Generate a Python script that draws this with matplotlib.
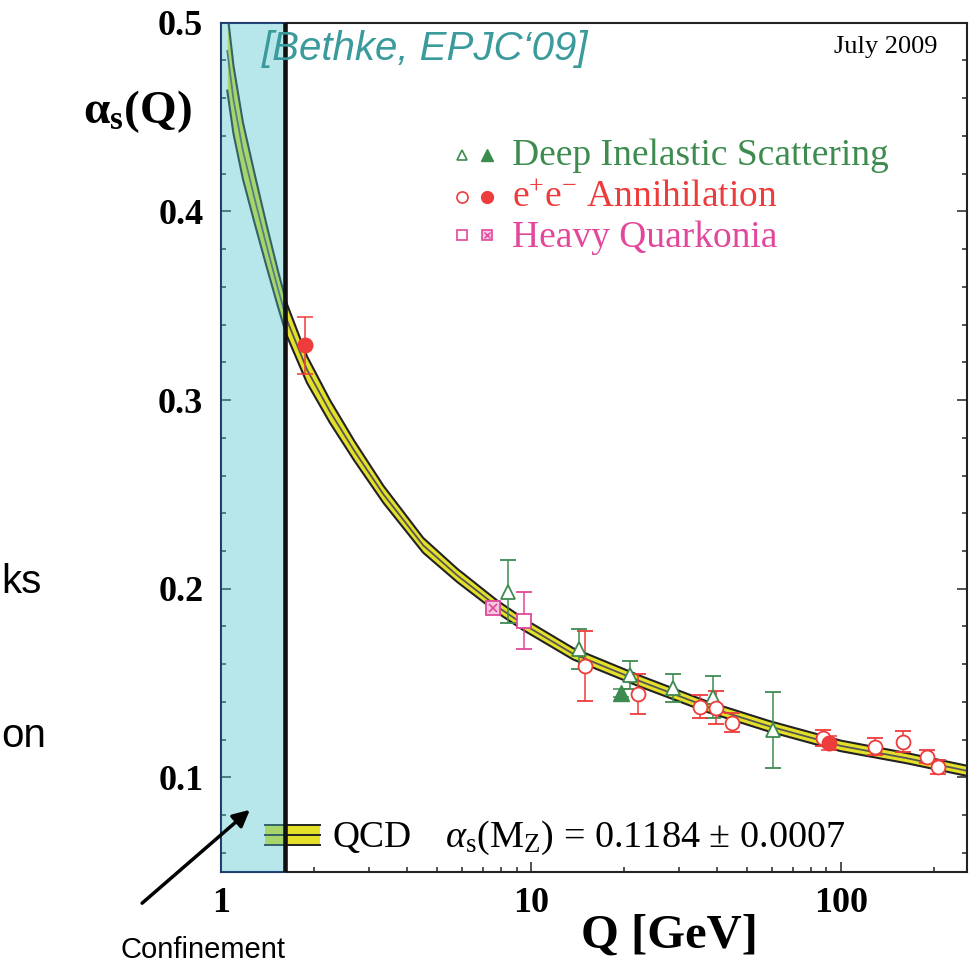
import numpy as np
import matplotlib.pyplot as plt
from matplotlib.ticker import FixedLocator, FixedFormatter, MultipleLocator, NullFormatter

plt.rcParams['mathtext.fontset'] = 'custom'
plt.rcParams['mathtext.rm'] = 'Liberation Serif'
plt.rcParams['mathtext.it'] = 'Liberation Serif:italic'
plt.rcParams['mathtext.bf'] = 'Liberation Serif:bold'

# QCD band (centre and half width)
band_q = [1.05, 1.1, 1.18, 1.29, 1.41, 1.53, 1.63, 1.9, 2.25, 2.7, 3.35, 4.5,
          5.8, 7.8, 9.5, 13.7, 22.5, 37, 59, 100, 163, 255]
band_alpha = [0.485, 0.459, 0.432, 0.406, 0.381, 0.359, 0.343, 0.316, 0.294, 0.273,
              0.250, 0.223, 0.207, 0.1905, 0.181, 0.1655, 0.151, 0.1375, 0.127,
              0.1167, 0.1102, 0.1035]
band_err = [0.021, 0.018, 0.015, 0.013, 0.011, 0.0095, 0.0085, 0.007, 0.006, 0.0052,
            0.0045, 0.0039, 0.0035, 0.0032, 0.0031, 0.003, 0.0029, 0.0028, 0.0028,
            0.0028, 0.0027, 0.0027]

# deep inelastic scattering
dis_q = [8.47, 14.3, 20.9, 28.8, 38.6, 60.6]
dis_a = [0.1985, 0.168, 0.1543, 0.1473, 0.1425, 0.1252]
dis_e = [0.0165, 0.0105, 0.0076, 0.0075, 0.011, 0.020]
dis_full_q = [19.6]
dis_full_a = [0.1446]
dis_full_e = [0.002]

# e+e- annihilation
ee_q = [15.0, 22.2, 35.2, 39.6, 44.5, 87.9, 129, 159, 190, 206]
ee_a = [0.159, 0.1441, 0.1375, 0.137, 0.129, 0.1208, 0.1163, 0.119, 0.111, 0.1054]
ee_e = [0.0185, 0.0106, 0.006, 0.0087, 0.005, 0.0043, 0.0047, 0.0055, 0.0035, 0.0037]
ee_full_q = [1.87, 92.0]
ee_full_a = [0.329, 0.1181]
ee_full_e = [0.015, 0.0037]

# heavy quarkonia
hq_q = [9.51]
hq_a = [0.183]
hq_e = [0.015]
hq_lat_q = [7.54]
hq_lat_a = [0.190]
hq_lat_e = [0.003]

green = '#3d8b4f'
red = '#ee3b3b'
pink = '#e2479b'
yellow = '#e4e02a'
cyan = (77/255, 197/255, 207/255, 0.4)

W, H = 969, 964
fig = plt.figure(figsize=(W/100, H/100), dpi=100)
ax = fig.add_axes([220.7/W, (H-871.7)/H, 746/W, 849/H])

def fx(px):
    return (px - 220.7) / 746.0

def fy(py):
    return (871.7 - py) / 849.0

def fig_xy(px, py):
    return px / W, 1 - py / H

# band
lo = np.array(band_alpha) - np.array(band_err)
hi = np.array(band_alpha) + np.array(band_err)
ax.fill_between(band_q, lo, hi, color=yellow, lw=0, zorder=2)
ax.plot(band_q, lo, color='#222222', lw=1.5, zorder=2.1)
ax.plot(band_q, hi, color='#222222', lw=1.5, zorder=2.1)
ax.plot(band_q, band_alpha, color='#555555', lw=1.3, zorder=2.1)

eb = dict(capsize=5.5, elinewidth=1.1, capthick=1.1, ls='none', zorder=5)
ax.errorbar(dis_q, dis_a, yerr=dis_e, fmt='^', color=green, mfc='white', mec=green,
            ms=10, mew=1.3, **eb)
ax.errorbar(dis_full_q, dis_full_a, yerr=dis_full_e, fmt='^', color=green, ms=11, **eb)
ax.errorbar(ee_q, ee_a, yerr=ee_e, fmt='o', color=red, mfc='white', mec=red,
            ms=10, mew=1.3, **eb)
ax.errorbar(ee_full_q, ee_full_a, yerr=ee_full_e, fmt='o', color=red, ms=10.5, **eb)
ax.errorbar(hq_q, hq_a, yerr=hq_e, fmt='s', color=pink, mfc='white', mec=pink,
            ms=9.5, mew=1.3, **eb)
ax.errorbar(hq_lat_q, hq_lat_a, yerr=hq_lat_e, fmt='s', color=pink, mfc='#f6c8e0',
            mec=pink, ms=9.5, mew=1.3, **eb)
ax.plot(hq_lat_q, hq_lat_a, 'x', color=pink, ms=6, mew=1.2, zorder=6)

# confinement region overlay
ax.axvspan(1, 1.61, ymin=0, ymax=1.0, fc=cyan, ec='#1f3f7a', lw=1.2,
           zorder=3, clip_on=False)
ax.axvline(1.61, ymin=0, ymax=0.998, color='#111111', lw=3.3, zorder=4)

ax.set_xscale('log')
ax.set_xlim(1, 255)
ax.set_ylim(0.05, 0.5)

ax.xaxis.set_major_locator(FixedLocator([1, 10, 100]))
ax.xaxis.set_major_formatter(FixedFormatter(['1', '10', '100']))
ax.xaxis.set_minor_locator(FixedLocator([2, 3, 4, 5, 6, 7, 8, 9, 20, 30, 40, 50,
                                         60, 70, 80, 90, 200]))
ax.xaxis.set_minor_formatter(NullFormatter())
ax.yaxis.set_major_locator(FixedLocator([0.1, 0.2, 0.3, 0.4, 0.5]))
ax.yaxis.set_major_formatter(FixedFormatter(['0.1', '0.2', '0.3', '0.4', '0.5']))
ax.yaxis.set_minor_locator(MultipleLocator(0.02))

ax.tick_params(which='both', direction='in', right=True, top=False, width=1.1,
               color='#222222')
ax.tick_params(which='major', length=7.2)
ax.tick_params(which='minor', length=3.6)
ax.tick_params(axis='y', pad=12.5)
ax.tick_params(axis='x', pad=11)
for lab in ax.get_xticklabels() + ax.get_yticklabels():
    lab.set_fontfamily('Liberation Serif')
    lab.set_fontweight('bold')
    lab.set_fontsize(26)
for sp in ax.spines.values():
    sp.set_linewidth(1.5)
    sp.set_color('#222222')

# legend drawn by hand
ax.plot(fx(462), fy(155), '^', mfc='white', mec=green, ms=7.5, mew=1.2,
        transform=ax.transAxes, clip_on=False)
ax.plot(fx(487), fy(155), '^', color=green, ms=8, transform=ax.transAxes, clip_on=False)
ax.plot(fx(462), fy(197), 'o', mfc='white', mec=red, ms=8, mew=1.2,
        transform=ax.transAxes, clip_on=False)
ax.plot(fx(487), fy(197), 'o', color=red, ms=8.5, transform=ax.transAxes, clip_on=False)
ax.plot(fx(462), fy(235), 's', mfc='white', mec=pink, ms=7.5, mew=1.2,
        transform=ax.transAxes, clip_on=False)
ax.plot(fx(487), fy(235), 's', mfc='#f6c8e0', mec=pink, ms=7.5, mew=1.2,
        transform=ax.transAxes, clip_on=False)
ax.plot(fx(487), fy(235), 'x', color=pink, ms=5, mew=1.0,
        transform=ax.transAxes, clip_on=False)

serif = 'Liberation Serif'
ax.text(fx(512), fy(165), 'Deep Inelastic Scattering', transform=ax.transAxes,
        family=serif, fontsize=27, color=green, va='baseline')
ax.text(fx(512), fy(206), r'e$^{+}$e$^{-}$ Annihilation', transform=ax.transAxes,
        family=serif, fontsize=27, color=red, va='baseline')
ax.text(fx(512), fy(247), 'Heavy Quarkonia', transform=ax.transAxes,
        family=serif, fontsize=27, color=pink, va='baseline')

# QCD band legend
ax.fill_between([fx(265), fx(320)], fy(845), fy(825), color=yellow, lw=0,
                transform=ax.transAxes, zorder=2)
for yy in (825, 835, 845):
    ax.plot([fx(265), fx(320)], [fy(yy), fy(yy)], color='#222222', lw=1.4,
            transform=ax.transAxes, zorder=2.1)
ax.text(fx(333), fy(847), 'QCD', transform=ax.transAxes, family=serif,
        fontsize=27, va='baseline')
ax.text(fx(445), fy(847), r'$\alpha_{\rm s}$(M$_{\rm Z}$) = 0.1184 ± 0.0007',
        transform=ax.transAxes, family=serif, fontsize=27.5, va='baseline')

ax.text(fx(938), fy(53), 'July 2009', transform=ax.transAxes, family=serif,
        fontsize=19, ha='right', va='baseline')

# labels and slide annotations
fig.text(*fig_xy(83, 123), r'$\mathbf{\alpha_s}$(Q)', family=serif, fontweight='bold',
         fontsize=34, va='baseline')
fig.text(*fig_xy(669, 948), 'Q [GeV]', family=serif, fontweight='bold', fontsize=35,
         ha='center', va='baseline')
fig.text(*fig_xy(262, 60), '[Bethke, EPJC‘09]', family='Liberation Sans',
         style='italic', fontsize=29, color='#3a9a9c', va='baseline')
fig.text(*fig_xy(1, 593), 'ks', family='Liberation Sans', fontsize=29,
         ha='left', va='baseline')
fig.text(*fig_xy(1, 747), 'on', family='Liberation Sans', fontsize=29,
         ha='left', va='baseline')
fig.text(*fig_xy(120, 958), 'Confinement', family='Liberation Sans', fontsize=21,
         va='baseline')
ax.annotate('', xy=(252, H - 808), xytext=(140, H - 905), xycoords='figure pixels',
            textcoords='figure pixels', annotation_clip=False,
            arrowprops=dict(arrowstyle='-|>', lw=2.5, color='black', mutation_scale=25))

fig.savefig('out.png', dpi=100)
